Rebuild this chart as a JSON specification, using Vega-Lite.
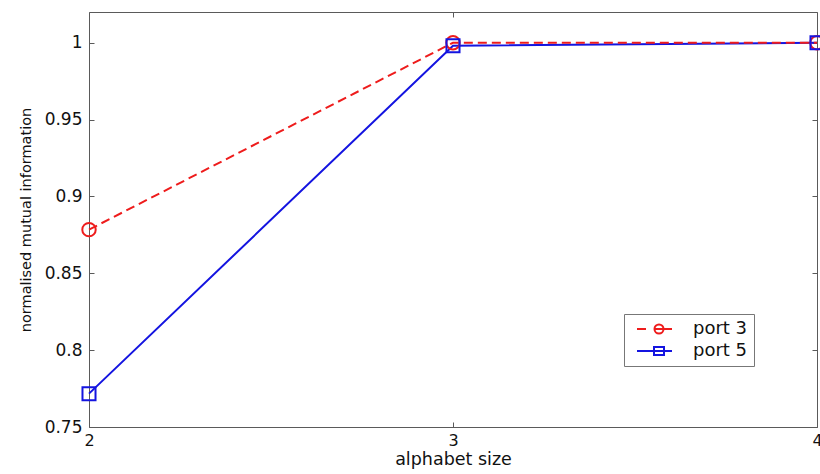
{
  "$schema": "https://vega.github.io/schema/vega-lite/v6.json",
  "width": 728,
  "height": 415,
  "autosize": {"type": "none"},
  "padding": {"left": 89, "top": 12, "right": 3, "bottom": 47},
  "background": "white",
  "config": {
    "font": "DejaVu Sans",
    "view": {"stroke": "#5a5a5a", "strokeWidth": 1}
  },
  "data": {
    "values": [
      {"alphabet": 2, "nmi": 0.8784, "series": "port 3"},
      {"alphabet": 3, "nmi": 1.0, "series": "port 3"},
      {"alphabet": 4, "nmi": 1.0, "series": "port 3"},
      {"alphabet": 2, "nmi": 0.7717, "series": "port 5"},
      {"alphabet": 3, "nmi": 0.998, "series": "port 5"},
      {"alphabet": 4, "nmi": 1.0, "series": "port 5"}
    ]
  },
  "layer": [
    {
      "mark": {"type": "point", "opacity": 0},
      "encoding": {
        "x": {
          "field": "alphabet", "type": "quantitative",
          "scale": {"domain": [2, 4], "nice": false, "zero": false},
          "axis": {"values": [2, 3, 4], "format": "~g", "title": "alphabet size", "grid": false, "domain": false,
            "tickSize": -5, "tickColor": "#5a5a5a", "labelPadding": 10, "labelFontSize": 16, "labelColor": "#111111",
            "labelOverlap": false, "labelFlush": false, "labelBound": false,
            "titleFontSize": 17.5, "titleFontWeight": "normal", "titleColor": "#111111", "titlePadding": 2}
        },
        "y": {
          "field": "nmi", "type": "quantitative",
          "scale": {"domain": [0.75, 1.02], "nice": false, "zero": false},
          "axis": {"values": [0.75, 0.8, 0.85, 0.9, 0.95, 1], "format": "~g", "title": "normalised mutual information", "grid": false, "domain": false,
            "tickSize": -5, "tickColor": "#5a5a5a", "labelPadding": 12, "labelFontSize": 17, "labelColor": "#111111",
            "labelOverlap": false, "labelFlush": false,
            "titleFontSize": 14.5, "titleFontWeight": "normal", "titleColor": "#111111", "titlePadding": 11}
        }
      }
    },
    {
      "transform": [{"filter": "datum.series === 'port 5'"}],
      "mark": {"type": "line", "strokeWidth": 2},
      "encoding": {
        "x": {"field": "alphabet", "type": "quantitative", "axis": null},
        "y": {"field": "nmi", "type": "quantitative", "axis": null},
        "color": {
          "field": "series", "type": "nominal",
          "scale": {"domain": ["port 3", "port 5"], "range": ["#ee1c1c", "#1414e0"]},
          "legend": {
            "title": null, "orient": "none", "legendX": 535, "legendY": 302,
            "strokeColor": "#777777", "fillColor": "white", "padding": 6,
            "labelFontSize": 18, "labelColor": "#111111", "symbolSize": 100, "symbolStrokeWidth": 2,
            "labelOffset": 45, "rowPadding": 4,
            "encode": {
              "symbols": {
                "update": {
                  "shape": {"signal": "datum.value === 'port 3' ? 'M-0.4,0H1.4M5.0,0H6.6M4.9,0A0.9,0.9,0,1,1,3.1,0A0.9,0.9,0,1,1,4.9,0M3.1,0H4.9' : 'M-0.4,0H6.6M3.0,-0.8H5.0V0.8H3.0Z'"},
                  "fill": {"value": "transparent"}
                }
              }
            }
          }
        }
      }
    },
    {
      "transform": [{"filter": "datum.series === 'port 3'"}],
      "mark": {"type": "line", "strokeWidth": 2, "strokeDash": [9, 5]},
      "encoding": {
        "x": {"field": "alphabet", "type": "quantitative", "axis": null},
        "y": {"field": "nmi", "type": "quantitative", "axis": null},
        "color": {"field": "series", "type": "nominal", "legend": null}
      }
    },
    {
      "transform": [{"filter": "datum.series === 'port 3'"}],
      "mark": {"type": "point", "shape": "circle", "filled": false, "strokeWidth": 2, "size": 180, "opacity": 1},
      "encoding": {
        "x": {"field": "alphabet", "type": "quantitative", "axis": null},
        "y": {"field": "nmi", "type": "quantitative", "axis": null},
        "color": {"field": "series", "type": "nominal", "legend": null}
      }
    },
    {
      "transform": [{"filter": "datum.series === 'port 5'"}],
      "mark": {"type": "point", "shape": "square", "filled": false, "strokeWidth": 2, "size": 170, "opacity": 1},
      "encoding": {
        "x": {"field": "alphabet", "type": "quantitative", "axis": null},
        "y": {"field": "nmi", "type": "quantitative", "axis": null},
        "color": {"field": "series", "type": "nominal", "legend": null}
      }
    },
    {
      "mark": {"type": "point", "opacity": 0},
      "encoding": {
        "x": {"field": "alphabet", "type": "quantitative",
          "axis": {"orient": "top", "values": [2, 3, 4], "labels": false, "title": null, "grid": false, "domain": false, "tickSize": -5, "tickColor": "#5a5a5a"}},
        "y": {"field": "nmi", "type": "quantitative",
          "axis": {"orient": "right", "values": [0.75, 0.8, 0.85, 0.9, 0.95, 1], "labels": false, "title": null, "grid": false, "domain": false, "tickSize": -5, "tickColor": "#5a5a5a"}}
      }
    }
  ],
  "resolve": {"axis": {"x": "independent", "y": "independent"}}
}
